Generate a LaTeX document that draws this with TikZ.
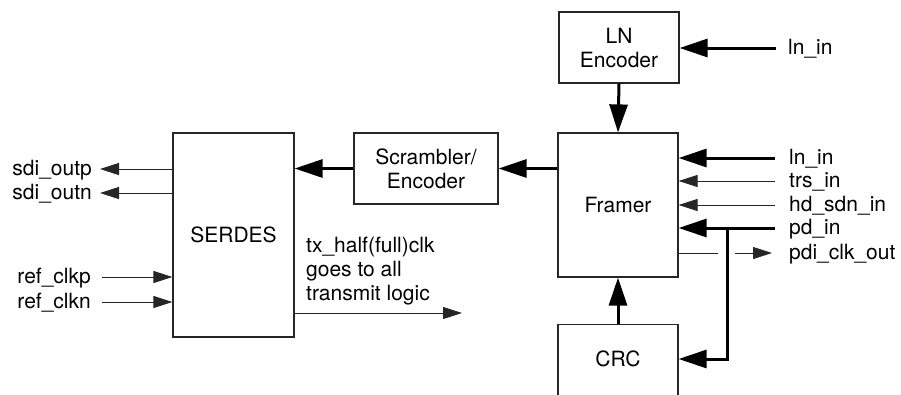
\documentclass[tikz,border=0pt]{standalone}
\usepackage{fontspec}
\setmainfont{TeX Gyre Heros}
\usetikzlibrary{arrows.meta}
\begin{document}
\begin{tikzpicture}[x=1pt,y=-1pt,
  every node/.style={font=\fontsize{21}{24}\selectfont, text=black},
  blk/.style={draw=black!85, line width=1.2pt, inner sep=0pt, align=center},
  thinarr/.style={line width=1pt, draw=black!85, -{Triangle[length=19pt,width=12pt]}},
  thinline/.style={line width=1pt, draw=black!85},
  thkarr/.style={line width=3pt, draw=black, -{Triangle[length=28pt,width=18pt]}},
  pin/.style={inner sep=0pt, text height=15pt, text depth=3pt},
]
\useasboundingbox (0,0) rectangle (901,394);
\clip (0,0) rectangle (901,394);

% blocks
\node[blk, minimum width=120pt, minimum height=71pt] (lnenc) at (619,47.5) {LN\\Encoder};
\node[blk, minimum width=120pt, minimum height=144pt] (framer) at (618,205) {Framer};
\node[blk, minimum width=144pt, minimum height=71pt] (scr) at (426,168.5) {Scrambler/\\Encoder};
\node[blk, minimum width=121pt, minimum height=204pt] (serdes) at (233.5,235) {SERDES};
\node[blk, minimum width=120pt, minimum height=150pt, anchor=north] (crc) at (618,324) {};
\node (crctext) at (618,359) {CRC};

% LN encoder input
\coordinate (pA) at (776,48);
\node[pin, anchor=west] (lA) at (788,48) {ln\_in};
\draw[thkarr] (pA) -- (lnenc.east |- pA);
\draw[thkarr] (lnenc.south) -- (framer.north);

% framer inputs
\coordinate (p1) at (775,158);
\coordinate (p2) at (775,181);
\coordinate (p3) at (775,205);
\coordinate (p4) at (775,228);
\coordinate (p5) at (772,253);
\node[pin, anchor=west] (l1) at (789,158) {ln\_in};
\node[pin, anchor=west] (l2) at (789,181) {trs\_in};
\node[pin, anchor=west] (l3) at (789,205) {hd\_sdn\_in};
\node[pin, anchor=west] (l4) at (789,228) {pd\_in};
\node[pin, anchor=west] (l5) at (789,253) {pdi\_clk\_out};
\draw[thkarr] (p1) -- (framer.east |- p1);
\draw[thinarr] (p2) -- (framer.east |- p2);
\draw[thinarr] (p3) -- (framer.east |- p3);
\draw[thkarr] (p4) -- (framer.east |- p4);
\coordinate (j) at (727,228);
\draw[thkarr, line join=miter] (j) |- (crctext -| crc.east);
\coordinate (g1) at (718,253);
\coordinate (g2) at (735,253);
\draw[thinline] (framer.east |- p5) -- (g1);
\draw[thinarr] (g2) -- (p5);

% CRC to framer
\draw[thkarr] (crc.north) -- (framer.south);

% datapath
\draw[thkarr] (framer.west |- scr.east) -- (scr.east);
\draw[thkarr] (scr.west) -- (serdes.east |- scr.west);

% SERDES pins
\coordinate (t1) at (100,169);
\coordinate (t2) at (100,193);
\node[pin, anchor=east] (s1) at (92,169) {sdi\_outp};
\node[pin, anchor=east] (s2) at (92,193) {sdi\_outn};
\draw[thinarr] (serdes.west |- t1) -- (t1);
\draw[thinarr] (serdes.west |- t2) -- (t2);
\coordinate (r1) at (102,277);
\coordinate (r2) at (102,302);
\node[pin, anchor=east] (rc1) at (91,277) {ref\_clkp};
\node[pin, anchor=east] (rc2) at (91,302) {ref\_clkn};
\draw[thinarr] (r1) -- (serdes.west |- r1);
\draw[thinarr] (r2) -- (serdes.west |- r2);

% tx clock
\node[anchor=west, align=left, inner sep=0pt] (txl) at (306,271) {tx\_half(full)clk\\goes to all\\transmit logic};
\coordinate (tx) at (462,313);
\draw[thinarr] (serdes.east |- tx) -- (tx);
\end{tikzpicture}
\end{document}
